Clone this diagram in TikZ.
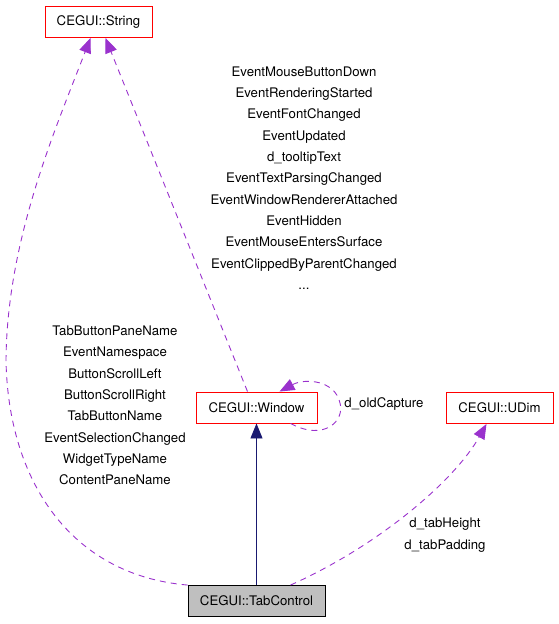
\documentclass[tikz,border=0pt]{standalone}
\usepackage{fontspec}
\setmainfont{TeX Gyre Heros}
\usetikzlibrary{arrows.meta}
\definecolor{usepurple}{HTML}{9A32CD}
\definecolor{inhnavy}{HTML}{191970}
\definecolor{boxgray}{HTML}{BFBFBF}

\begin{document}
\begin{tikzpicture}[x=1pt,y=-1pt,
		cls/.style={draw=red,line width=0.9pt,minimum height=31pt,inner sep=0pt,font=\fontsize{13.2}{15}\selectfont},
		lbl/.style={align=center,inner sep=0pt,font=\fontsize{13.2}{21.3}\selectfont},
		use/.style={draw=usepurple,line width=0.9pt,dash pattern=on 6pt off 5pt,-{Triangle[length=15pt,width=12pt,fill=usepurple]}},
		inh/.style={draw=inhnavy,line width=0.9pt,-{Triangle[length=15pt,width=12pt,fill=inhnavy]}}]
	\useasboundingbox (0,0) rectangle (559,624);
	\node[cls,minimum width=107pt] (str) at (98.5,22) {CEGUI::String};
	\node[cls,minimum width=121pt] (win) at (256.5,407.5) {CEGUI::Window};
	\node[cls,minimum width=107pt] (udim) at (499.5,408) {CEGUI::UDim};
	\node[cls,draw=black,fill=boxgray,minimum width=137pt] (tab) at (256.5,601) {CEGUI::TabControl};

	\node[lbl] (winlbl) at (304,178) {EventMouseButtonDown\\EventRenderingStarted\\EventFontChanged\\EventUpdated\\d\_tooltipText\\EventTextParsingChanged\\EventWindowRendererAttached\\EventHidden\\EventMouseEntersSurface\\EventClippedByParentChanged\\...};
	\node[lbl] (tablbl) at (115,405.5) {TabButtonPaneName\\EventNamespace\\ButtonScrollLeft\\ButtonScrollRight\\TabButtonName\\EventSelectionChanged\\WidgetTypeName\\ContentPaneName};
	\node[lbl] (looplbl) at (384,404) {d\_oldCapture};
	\node[lbl] (udimlbl) at (445,535) {d\_tabHeight\\d\_tabPadding};

	\path[use] (tab.north west) .. controls (70,575) and (8,480) .. (6,360) .. controls (7,240) and (55,130) .. ([xshift=-8pt]str.south);
	\path[use] ([xshift=-9pt]win.north) -- ([xshift=7pt]str.south);
	\path[use] ([xshift=34pt]win.south) .. controls (325,442) and (345,420) .. (340,403) .. controls (335,380) and (305,378) .. ([xshift=23pt]win.north);
	\path[use] ([xshift=34pt]tab.north) .. controls (380,545) and (455,480) .. ([xshift=-13pt]udim.south);
	\path[inh] (tab) edge (win);
\end{tikzpicture}
\end{document}
